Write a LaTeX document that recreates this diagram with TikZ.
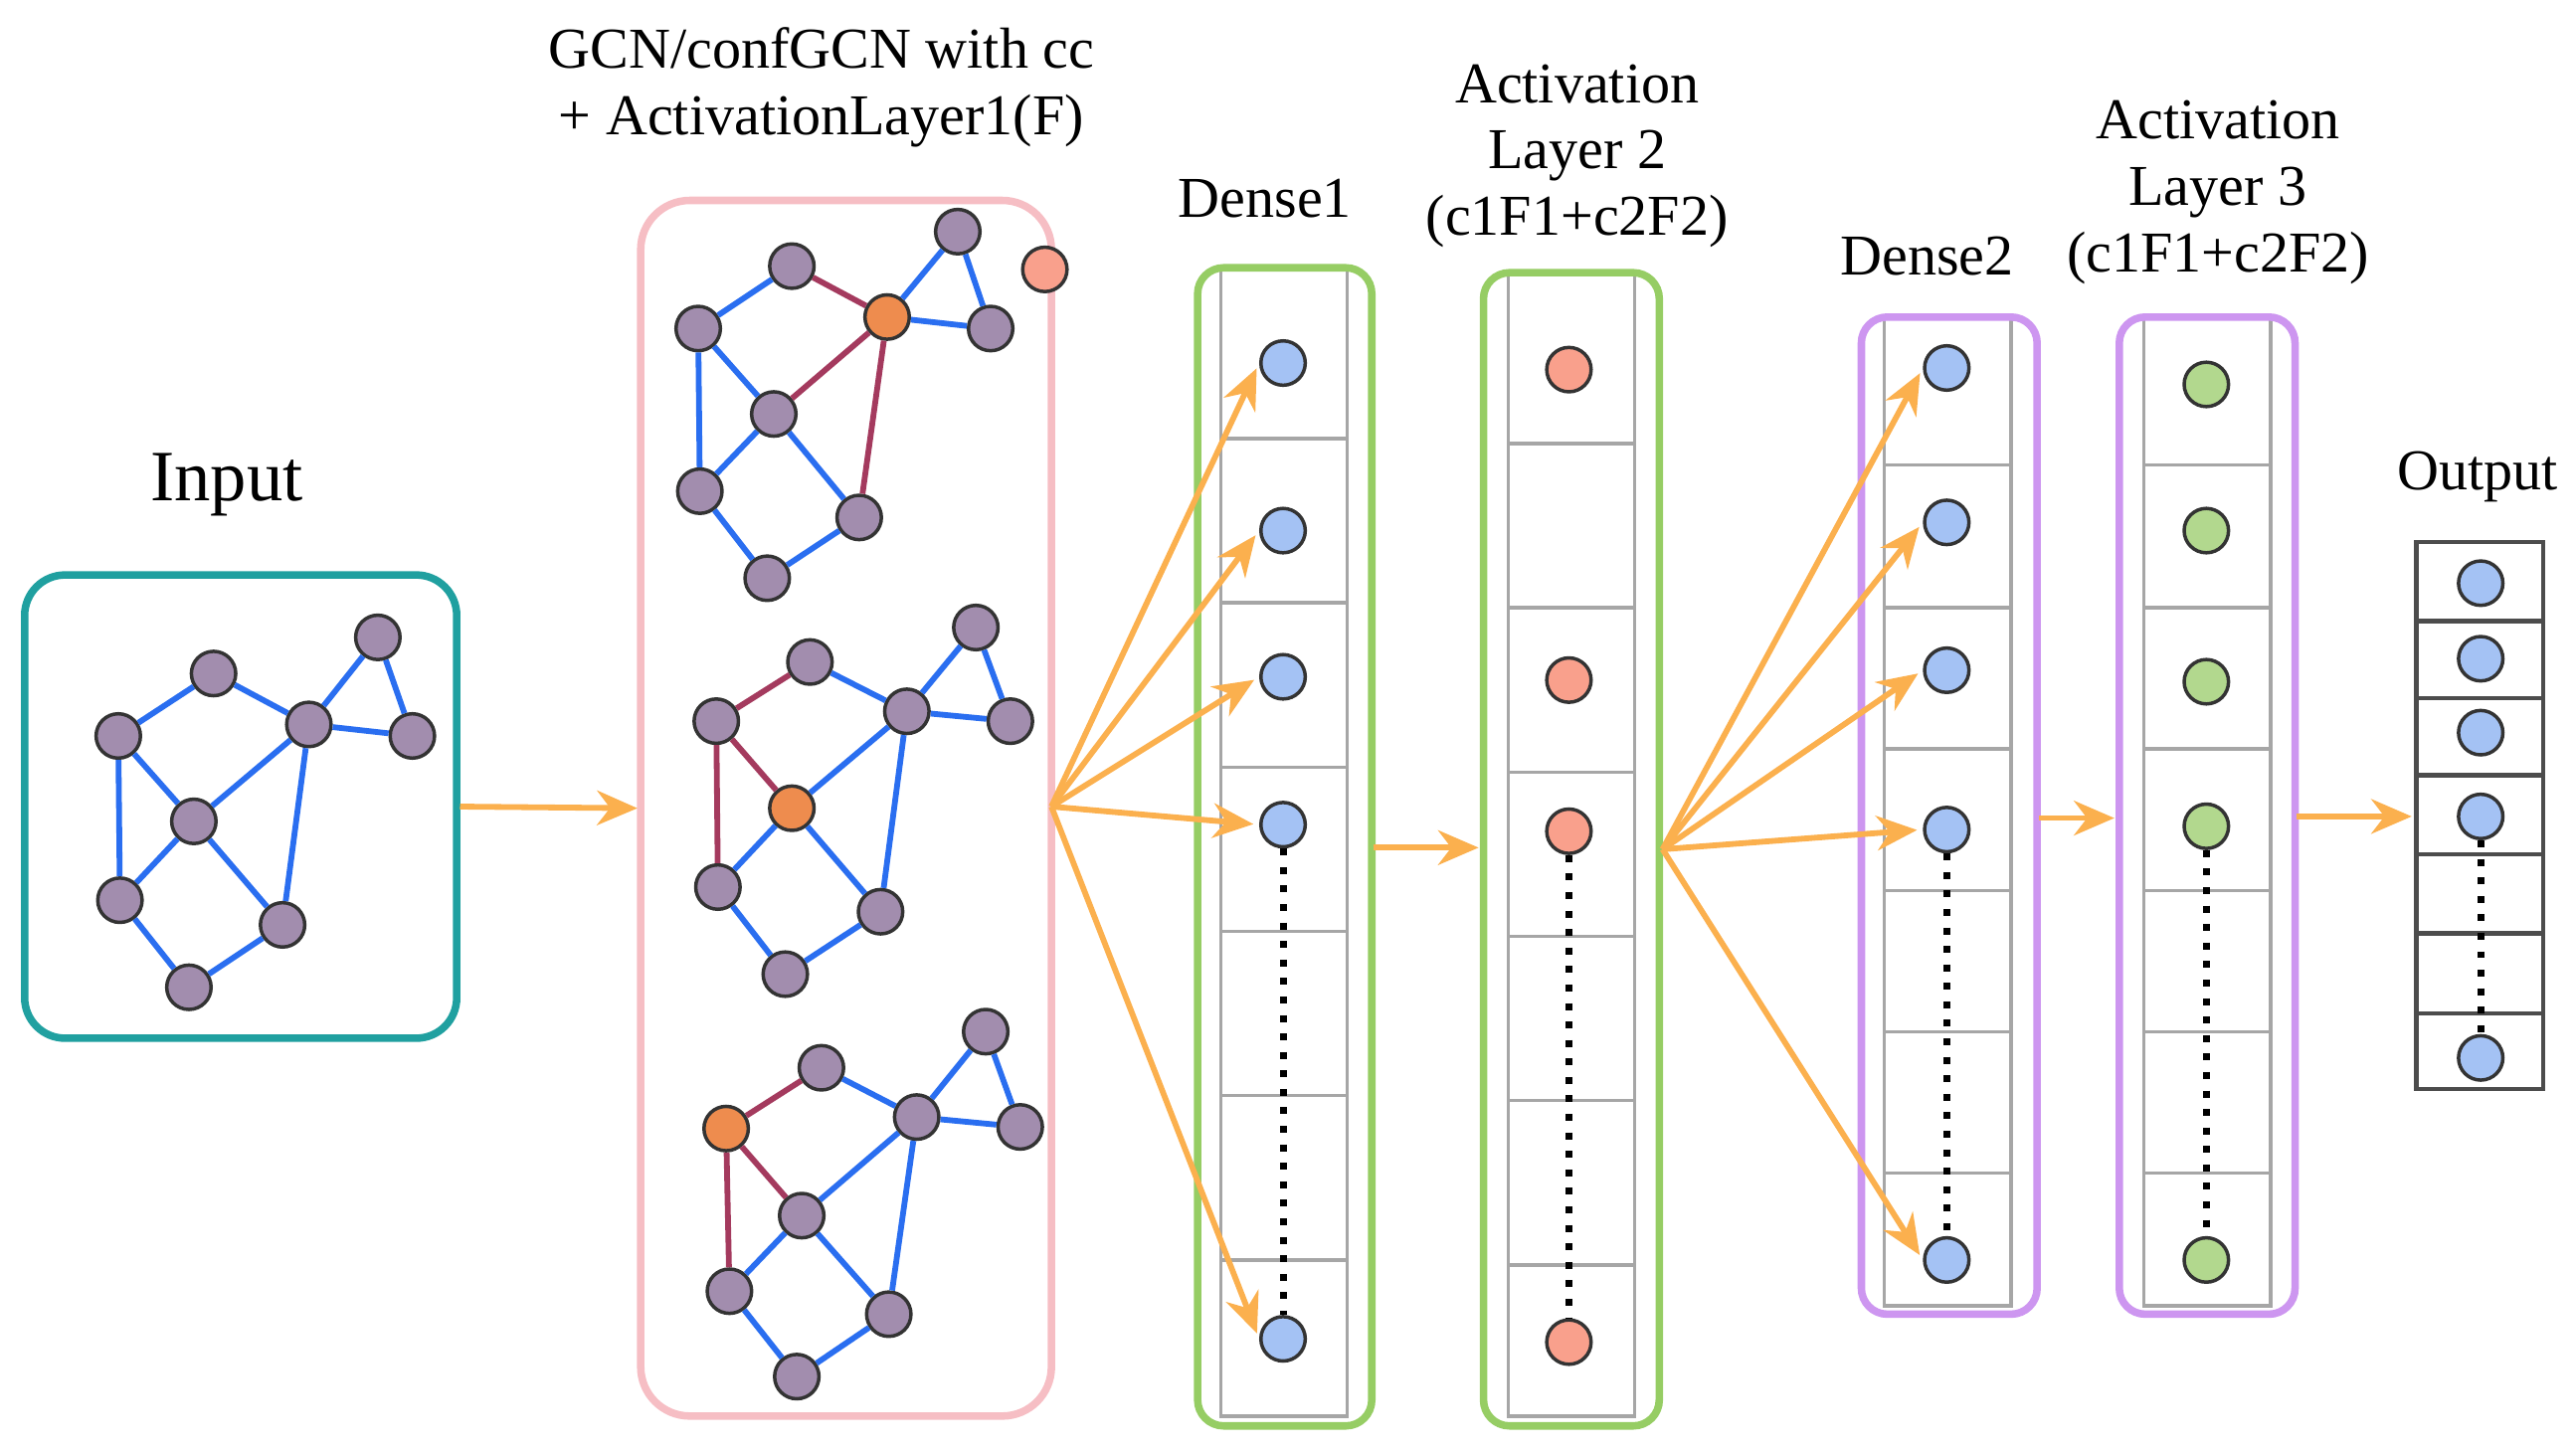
\documentclass[tikz,border=0pt]{standalone}
\usepackage{fontspec}
\setmainfont{Liberation Serif}
\usetikzlibrary{arrows.meta}
\definecolor{pur}{HTML}{A28DAE}
\definecolor{org}{HTML}{EE8C4E}
\definecolor{sal}{HTML}{F9A08C}
\definecolor{blu}{HTML}{A4C2F4}
\definecolor{grn}{HTML}{B2D88E}
\definecolor{eb}{HTML}{2A6EF0}
\definecolor{er}{HTML}{A43A5E}
\definecolor{arr}{HTML}{FBB04E}
\begin{document}
\begin{tikzpicture}[x=0.01cm,y=-0.01cm,
 v/.style={circle,draw=black!80,line width=0.6pt,minimum size=0.27cm,inner sep=0pt,fill=pur},
 vo/.style={v,fill=org}, vs/.style={v,fill=sal}, vb/.style={v,fill=blu}, vg/.style={v,fill=grn},
 eB/.style={eb,line width=1pt}, eR/.style={er,line width=1pt},
 ar/.style={arr,line width=1pt,-{Stealth[length=7pt,width=6pt]}},
 ttl/.style={font=\fontsize{10pt}{11.5pt}\selectfont,align=center},
 cell/.style={draw=black!35,line width=0.6pt},
 dot/.style={dotted,line width=1.2pt}]
\useasboundingbox (0,0) rectangle (1568,885);
% Input
\node[font=\fontsize{12.5pt}{14pt}\selectfont] (tin) at (138,295) {Input};
\draw[color={rgb,255:red,32;green,160;blue,160},line width=1.3pt,rounded corners=7pt] (15,350) rectangle (278,632);
\foreach \n/\x/\y in {a/130/410,b/72/448,c/188/441,d/230/388,e/251/448,f/118/500,g/73/548,h/172/563,i/115/601}
  \node[v] (i\n) at (\x,\y) {};
\foreach \p/\q in {b/a,a/c,c/d,d/e,c/e,b/g,b/f,f/c,f/g,f/h,c/h,g/i,i/h}
  \draw[eB] (i\p) -- (i\q);
% GCN box
\node[ttl] (tg) at (500,53) {GCN/confGCN with cc\\+ ActivationLayer1(F)};
\draw[color={rgb,255:red,246;green,190;blue,196},line width=1.3pt,rounded corners=8.5pt] (390,122) rectangle (640,862);
\coordinate (gout) at (640,491);
\coordinate (iout) at (280,491);
\draw[ar] (iout) -- (388,492) coordinate (gin);
% graph 1
\foreach \n/\x/\y/\s in {a/482/162/v,b/425/200/v,c/540/193/vo,d/583/141/v,e/603/200/v,f/471/252/v,g/426/299/v,h/523/315/v,i/467/352/v}
  \node[\s] (p\n) at (\x,\y) {};
\node[vs] (lone) at (636,164) {};
\foreach \p/\q in {b/a,c/d,d/e,c/e,b/g,b/f,f/g,f/h,g/i,i/h} \draw[eB] (p\p) -- (p\q);
\foreach \p/\q in {a/c,c/f,c/h} \draw[eR] (p\p) -- (p\q);
% graph 2
\foreach \n/\x/\y/\s in {a/493/403/v,b/436/439/v,c/552/433/v,d/594/382/v,e/615/439/v,f/482/492/vo,g/437/540/v,h/536/555/v,i/478/593/v}
  \node[\s] (q\n) at (\x,\y) {};
\foreach \p/\q in {a/c,c/d,d/e,c/e,f/c,f/g,f/h,c/h,g/i,i/h} \draw[eB] (q\p) -- (q\q);
\foreach \p/\q in {b/a,b/f,b/g} \draw[eR] (q\p) -- (q\q);
% graph 3
\foreach \n/\x/\y/\s in {a/500/650/v,b/442/687/vo,c/558/680/v,d/600/628/v,e/621/686/v,f/488/740/v,g/444/786/v,h/541/800/v,i/485/838/v}
  \node[\s] (r\n) at (\x,\y) {};
\foreach \p/\q in {a/c,c/d,d/e,c/e,f/c,f/g,f/h,c/h,g/i,i/h} \draw[eB] (r\p) -- (r\q);
\foreach \p/\q in {b/a,b/g,b/f} \draw[eR] (r\p) -- (r\q);
% Dense1
\node[ttl] (td1) at (770,121) {Dense1};
\draw[cell] (743,163) rectangle (820,862);
\foreach \y in {267,367,467,567,667,767} \draw[cell] (743,\y) -- (820,\y);
\draw[color={rgb,255:red,150;green,205;blue,100},line width=1.3pt,rounded corners=4.5pt] (729,163) rectangle (835,868);
\foreach \n/\y in {1/221,2/323,3/412,4/502,5/815} \node[vb] (d\n) at (781,\y) {};
\draw[dot] (d4) -- (d5);
\foreach \n in {1,...,5} \draw[ar,shorten >=1pt] (gout) -- (d\n.west);
% Act2
\node[ttl] (ta2) at (960,95) {Activation\\Layer 2\\(c1F1+c2F2)};
\draw[cell] (918,166) rectangle (995,862);
\foreach \y in {270,370,470,570,670,770} \draw[cell] (918,\y) -- (995,\y);
\draw[color={rgb,255:red,150;green,205;blue,100},line width=1.3pt,rounded corners=4.5pt] (903,166) rectangle (1010,868);
\foreach \n/\y in {1/225,2/414,3/506,4/817} \node[vs] (a\n) at (955,\y) {};
\draw[dot] (a3) -- (a4);
\coordinate (d1out) at (836,516);
\draw[ar] (d1out) -- (900,516) coordinate (a2in);
% Dense2
\node[ttl] (td2) at (1173,156) {Dense2};
\draw[cell] (1147,193) rectangle (1224,795);
\foreach \y in {283,370,456,542,628,714} \draw[cell] (1147,\y) -- (1224,\y);
\draw[color={rgb,255:red,205;green,150;blue,240},line width=1.3pt,rounded corners=4.5pt] (1133,193) rectangle (1240,800);
\foreach \n/\y in {1/224,2/318,3/408,4/505,5/767} \node[vb] (e\n) at (1185,\y) {};
\draw[dot] (e4) -- (e5);
\coordinate (a2out) at (1012,517);
\foreach \n in {1,...,5} \draw[ar,shorten >=1pt] (a2out) -- (e\n.west);
% Act3
\node[ttl] (ta3) at (1350,117) {Activation\\Layer 3\\(c1F1+c2F2)};
\draw[cell] (1305,193) rectangle (1382,795);
\foreach \y in {283,370,456,542,628,714} \draw[cell] (1305,\y) -- (1382,\y);
\draw[color={rgb,255:red,205;green,150;blue,240},line width=1.3pt,rounded corners=4.5pt] (1290,193) rectangle (1397,800);
\foreach \n/\y in {1/234,2/323,3/415,4/503,5/767} \node[vg] (f\n) at (1343,\y) {};
\draw[dot] (f4) -- (f5);
\coordinate (e2out) at (1241,498);
\draw[ar] (e2out) -- (1287,498) coordinate (a3in);
% Output
\node[ttl] (tout) at (1508,290) {Output};
\draw[draw=black!70,line width=0.8pt] (1471,330) rectangle (1548,663);
\foreach \y in {378,425,472,520,568,617} \draw[draw=black!70,line width=0.8pt] (1471,\y) -- (1548,\y);
\foreach \n/\y in {1/355,2/401,3/446,4/497,5/644} \node[vb] (o\n) at (1510,\y) {};
\draw[dot] (o4) -- (o5);
\coordinate (a3out) at (1398,497);
\draw[ar] (a3out) -- (1468,497) coordinate (oin);
\end{tikzpicture}
\end{document}
